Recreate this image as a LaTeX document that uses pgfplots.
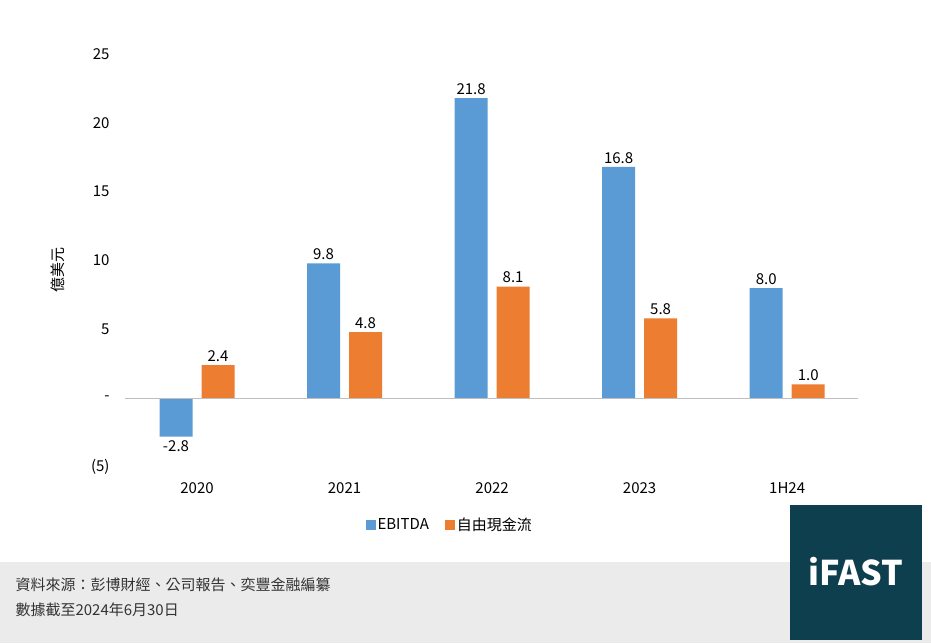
\documentclass[border=0pt]{standalone}
\usepackage{pgfplots}
\pgfplotsset{compat=1.18}
\usepackage{fontspec}
\setmainfont{Noto Sans CJK TC}
\definecolor{cb}{HTML}{5B9BD5}
\definecolor{co}{HTML}{ED7D31}
\definecolor{ft}{HTML}{0E3F4F}
\begin{document}
\begin{tikzpicture}[x=1pt,y=1pt]
\fill[white] (0,0) rectangle (931,643);
\fill[black!8] (0,0) rectangle (931,81);
\fill[ft] (790,3) rectangle (922,138);
\node[white,font=\fontsize{34}{40}\selectfont\bfseries] at (856,71) {iFAST};
\node[anchor=west,font=\fontsize{15}{18}\selectfont,text=black!80] at (12,58) {資料來源：彭博財經、公司報告、奕豐金融編纂};
\node[anchor=west,font=\fontsize{15}{18}\selectfont,text=black!80] at (12,33) {數據截至2024年6月30日};
\begin{axis}[at={(125pt,176pt)},anchor=south west,scale only axis,width=733pt,height=413pt,
 xmin=-0.488,xmax=4.48,ymin=-5,ymax=25,axis line style={draw=none},tick style={draw=none},
 ybar,bar width=33pt,
 xtick={0,1,2,3,4},xticklabels={2020,2021,2022,2023,1H24},
 ytick={-5,0,5,10,15,20,25},yticklabels={(5),-,5,10,15,20,25},
 x tick label style={font=\fontsize{15}{18}\selectfont,yshift=-8pt},
 y tick label style={font=\fontsize{15}{18}\selectfont,anchor=east,xshift=-12pt},
 /pgf/number format/assume math mode=true,
 nodes near coords,nodes near coords align={vertical},
 every node near coord/.append style={font=\fontsize{15}{18}\selectfont,/pgf/number format/.cd,fixed,fixed zerofill,precision=1},
 legend style={at={(0.443,-0.14)},anchor=center,draw=none,legend columns=2,font=\fontsize{15}{18}\selectfont,/tikz/every even column/.append style={column sep=14pt}},
 legend image code/.code={\fill[#1] (0,-5pt) rectangle (10pt,5pt);},
 clip=false]
\addplot[draw=none,fill=cb,bar shift=-21pt] coordinates {(0,-2.8) (1,9.8) (2,21.8) (3,16.8) (4,8.0)};
\addplot[draw=none,fill=co,bar shift=21pt] coordinates {(0,2.4) (1,4.8) (2,8.1) (3,5.8) (4,1.0)};
\legend{EBITDA,自由現金流}
\draw[black!25,line width=1pt] (axis cs:-0.488,0) -- (axis cs:4.48,0);
\end{axis}
\node[rotate=90,font=\fontsize{15}{18}\selectfont] at (58,373) {億美元};
\end{tikzpicture}
\end{document}
